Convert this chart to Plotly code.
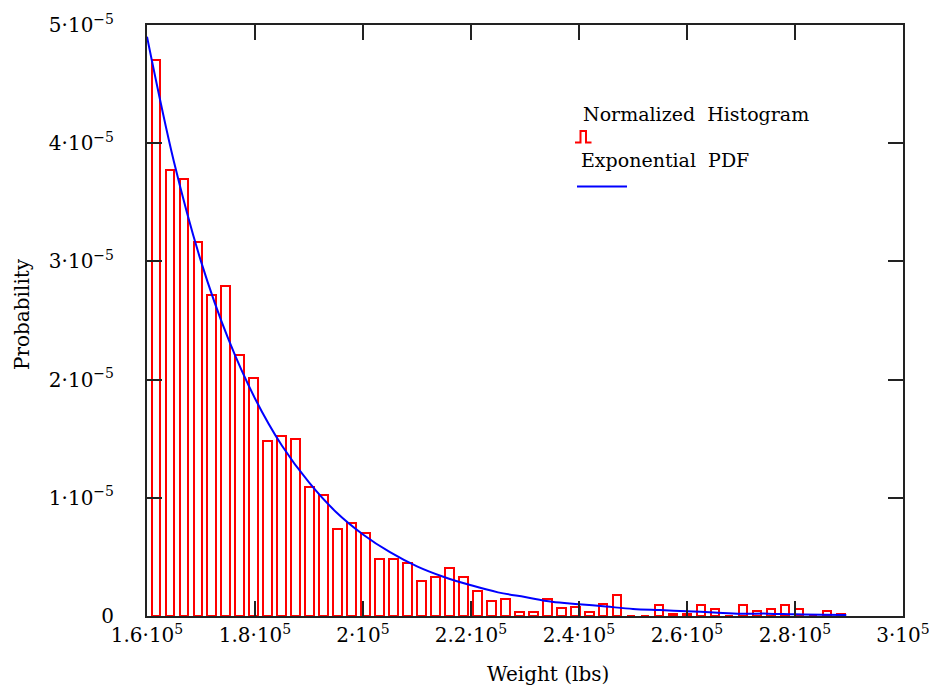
import plotly.graph_objects as go

# ---- data ----
bin_start = 160000
bin_width = 2590
hist_values = [4.70, 3.77, 3.70, 3.16, 2.72, 2.79, 2.21, 2.01, 1.48, 1.52,
               1.50, 1.09, 1.02, 0.74, 0.79, 0.70, 0.48, 0.48, 0.45, 0.30,
               0.33, 0.41, 0.33, 0.21, 0.13, 0.14, 0.03, 0.03, 0.14, 0.07,
               0.08, 0.03, 0.10, 0.18, 0.00, 0.00, 0.09, 0.02, 0.02, 0.09,
               0.06, 0.00, 0.095, 0.04, 0.06, 0.09, 0.06, 0.00, 0.04, 0.02]
hist_values = [v * 1e-5 for v in hist_values]

pdf_x = [160000, 165000, 170000, 175000, 180000, 185000, 190000, 195000,
         200000, 205000, 210000, 215000, 220000, 225000, 230000, 235000,
         240000, 245000, 250000, 255000, 260000, 265000, 270000, 275000,
         280000, 285000, 289500]
pdf_y = [4.90, 3.84, 3.00, 2.35, 1.84, 1.44, 1.13, 0.88, 0.69, 0.54, 0.42,
         0.33, 0.26, 0.20, 0.16, 0.12, 0.10, 0.08, 0.06, 0.05, 0.04, 0.03,
         0.02, 0.02, 0.014, 0.011, 0.009]
pdf_y = [v * 1e-5 for v in pdf_y]

x_ticks = [160000, 180000, 200000, 220000, 240000, 260000, 280000, 300000]
x_ticktext = ["1.6·10<sup>5</sup>", "1.8·10<sup>5</sup>", "2·10<sup>5</sup>",
              "2.2·10<sup>5</sup>", "2.4·10<sup>5</sup>", "2.6·10<sup>5</sup>",
              "2.8·10<sup>5</sup>", "3·10<sup>5</sup>"]
y_ticks = [0, 1e-5, 2e-5, 3e-5, 4e-5, 5e-5]
y_ticktext = ["0", "1·10<sup>−5</sup>", "2·10<sup>−5</sup>", "3·10<sup>−5</sup>",
              "4·10<sup>−5</sup>", "5·10<sup>−5</sup>"]

legend_labels = ["Normalized  Histogram", "Exponential  PDF"]
x_title = "Weight (lbs)"
y_title = "Probability"

# bar centres (bars drawn narrower than the bin, offset as in the reference)
bar_x = [bin_start + bin_width * (i + 0.625) for i in range(len(hist_values))]

FONT = "DejaVu Serif"
W, H = 929, 689
L, R, T, B = 147, 26, 25, 73

fig = go.Figure()
fig.add_trace(go.Bar(
    x=bar_x, y=hist_values, width=bin_width * 0.6,
    marker=dict(color="rgba(0,0,0,0)", line=dict(color="#ff0000", width=2)),
    showlegend=False))
fig.add_trace(go.Scatter(
    x=pdf_x, y=pdf_y, mode="lines", line=dict(color="#0000ff", width=2, shape="spline"),
    showlegend=False))

pw = W - L - R
ph = H - T - B
def px(xp):
    return (xp - L) / pw
def py(yp):
    return (H - B - yp) / ph

annotations = [
    dict(text=legend_labels[0], x=px(581), y=py(114), xref="paper", yref="paper",
         xanchor="left", yanchor="middle", showarrow=False,
         font=dict(family=FONT, size=19, color="black")),
    dict(text=legend_labels[1], x=px(579), y=py(160), xref="paper", yref="paper",
         xanchor="left", yanchor="middle", showarrow=False,
         font=dict(family=FONT, size=19, color="black")),
    dict(text=x_title, x=px(548), y=py(674), xref="paper", yref="paper",
         xanchor="center", yanchor="middle", showarrow=False,
         font=dict(family=FONT, size=20, color="black")),
    dict(text=y_title, x=px(22), y=py(314), xref="paper", yref="paper",
         xanchor="center", yanchor="middle", showarrow=False, textangle=-90,
         font=dict(family=FONT, size=20, color="black")),
]
shapes = [
    dict(type="path", xref="paper", yref="paper",
         path=f"M {px(575)},{py(142.5)} L {px(580.5)},{py(142.5)} L {px(580.5)},{py(131)} "
              f"L {px(586)},{py(131)} L {px(586)},{py(142.5)} L {px(591.5)},{py(142.5)}",
         line=dict(color="#ff0000", width=2)),
    dict(type="line", xref="paper", yref="paper", x0=px(577), x1=px(627),
         y0=py(186.5), y1=py(186.5), line=dict(color="#0000ff", width=2)),
]

axis_common = dict(showline=True, linecolor="#222222", linewidth=2, mirror="ticks",
                   ticks="inside", ticklen=15, tickwidth=2, tickcolor="#222222",
                   showgrid=False, zeroline=False, automargin=False,
                   tickfont=dict(family=FONT, size=20, color="black"))

fig.update_layout(
    width=W, height=H, autosize=False,
    margin=dict(l=L, r=R, t=T, b=B, autoexpand=False),
    paper_bgcolor="white", plot_bgcolor="white",
    bargap=0,
    xaxis=dict(range=[160000, 300000], tickvals=x_ticks, ticktext=x_ticktext,
               ticklabeloverflow="allow",
               **axis_common),
    yaxis=dict(range=[0, 5e-5], tickvals=y_ticks, ticktext=y_ticktext,
               ticklabelstandoff=27,
               **axis_common),
    annotations=annotations, shapes=shapes,
)

fig.write_html("out.html")
